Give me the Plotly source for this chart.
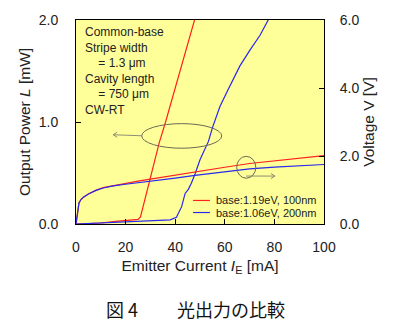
import plotly.graph_objects as go

# ---- data ----
red_L_I = [0, 5, 10, 16, 22, 25, 26, 26.5, 27.5, 28.5, 29.8, 31.5, 33.6, 36, 40, 44, 47.8, 48.5]
red_L = [0, 0.005, 0.01, 0.025, 0.035, 0.045, 0.07, 0.12, 0.2, 0.3, 0.43, 0.6, 0.8, 0.99, 1.33, 1.68, 2.0, 2.06]

blue_L_I = [0, 10, 20, 30, 38, 40.5, 42.6, 44, 45.3, 46.5, 48, 50, 53.4, 55.1, 58, 61.4, 66.1, 70, 74.2, 77.5, 78.5]
blue_L = [0, 0.01, 0.02, 0.03, 0.04, 0.065, 0.17, 0.3, 0.34, 0.4, 0.49, 0.63, 0.81, 0.95, 1.15, 1.32, 1.55, 1.7, 1.85, 2.0, 2.05]

red_V_I = [0, 0.4, 0.8, 1.2, 2, 3, 5, 8, 11, 15, 20, 25, 30, 40, 48, 60, 70, 80, 90, 100]
red_V = [0, 0.25, 0.5, 0.62, 0.72, 0.79, 0.88, 0.99, 1.07, 1.13, 1.2, 1.26, 1.32, 1.44, 1.54, 1.67, 1.78, 1.86, 1.94, 2.01]

blue_V_I = [0, 0.4, 0.8, 1.2, 2, 3, 5, 8, 11, 15, 20, 25, 30, 40, 48, 60, 70, 80, 90, 100]
blue_V = [0, 0.25, 0.5, 0.62, 0.72, 0.79, 0.88, 0.99, 1.06, 1.12, 1.17, 1.21, 1.25, 1.35, 1.43, 1.53, 1.62, 1.67, 1.71, 1.75]

series_names = ["base:1.19eV, 100nm", "base:1.06eV, 200nm"]
series_colors = ["#FF2020", "#2828F0"]

x_ticks = [0, 20, 40, 60, 80, 100]
yL_ticks = [0.0, 1.0, 2.0]
yV_ticks = [0.0, 2.0, 4.0, 6.0]

info_lines = ["Common-base", "Stripe width", "\u00a0\u00a0\u00a0\u00a0= 1.3 μm",
              "Cavity length", "\u00a0\u00a0\u00a0\u00a0= 750 μm", "CW-RT"]
caption_num = "図 4"
caption_text = "光出力の比較"

FONT = "Arial, Liberation Sans, sans-serif"
ANNO_COL = "#6a6a55"
ARROW_COL = "#808070"

fig = go.Figure()
fig.add_trace(go.Scatter(x=red_L_I, y=red_L, mode="lines", line=dict(color=series_colors[0], width=1.2),
                         showlegend=False))
fig.add_trace(go.Scatter(x=blue_L_I, y=blue_L, mode="lines", line=dict(color=series_colors[1], width=1.2),
                         showlegend=False))
fig.add_trace(go.Scatter(x=red_V_I, y=red_V, mode="lines", line=dict(color=series_colors[0], width=1.2),
                         yaxis="y2", showlegend=False))
fig.add_trace(go.Scatter(x=blue_V_I, y=blue_V, mode="lines", line=dict(color=series_colors[1], width=1.2),
                         yaxis="y2", showlegend=False))

axis_common = dict(showgrid=False, zeroline=False, showline=True, linecolor="black", linewidth=1,
                   ticks="inside", ticklen=5, tickcolor="black",
                   tickfont=dict(family=FONT, size=14, color="#222"))

fig.update_layout(
    width=411, height=331,
    margin=dict(l=76, r=87, t=16, b=107),
    paper_bgcolor="white", plot_bgcolor="#FFFF99",
    font=dict(family=FONT, color="#222"),
    xaxis=dict(range=[0, 100], tickvals=x_ticks, mirror=True, ticklabelstandoff=10,
               title=dict(text="Emitter Current <i>I</i><sub>E</sub> [mA]", font=dict(size=15.5), standoff=6),
               **axis_common),
    yaxis=dict(range=[0, 2.0], tickvals=yL_ticks, tickformat=".1f", ticklabelstandoff=14,
               title=dict(text="Output Power <i>L</i> [mW]", font=dict(size=15.5), standoff=4),
               **axis_common),
    yaxis2=dict(range=[0, 6.0], tickvals=yV_ticks, tickformat=".1f", overlaying="y", side="right",
                ticklabelstandoff=12,
                title=dict(text="Voltage V [V]", font=dict(size=15.5), standoff=4),
                **axis_common),
)

# ellipses marking curve groups
fig.add_shape(type="circle", xref="x", yref="y", x0=26.5, x1=58.75, y0=0.743, y1=0.984,
              line=dict(color=ANNO_COL, width=1))
fig.add_shape(type="circle", xref="x", yref="y", x0=64.8, x1=72.5, y0=0.449, y1=0.663,
              line=dict(color=ANNO_COL, width=1))


# arrows (shaft + open head), in data coordinates
def arrow(x_tail, y_tail, x_head, y_head, dx_head, dy_head):
    fig.add_shape(type="line", xref="x", yref="y", x0=x_tail, y0=y_tail, x1=x_head, y1=y_head,
                  line=dict(color=ARROW_COL, width=0.9))
    fig.add_shape(type="path", xref="x", yref="y",
                  path=f"M {x_head + dx_head},{y_head + dy_head} L {x_head},{y_head} L {x_head + dx_head},{y_head - dy_head}",
                  line=dict(color=ARROW_COL, width=0.9))


arrow(26.5, 0.865, 15.0, 0.875, 1.6, 0.025)
arrow(68.6, 0.47, 80.2, 0.47, -1.6, 0.025)

# info text
fig.add_annotation(x=0.028, y=(224 - 19) / 208, xref="paper", yref="paper", xanchor="left", yanchor="top",
                   align="left", showarrow=False, text="<br>".join(info_lines),
                   font=dict(family=FONT, size=12, color="#222"))

# legend (drawn manually to match compact spacing)
leg_rows_y = [(224 - 200) / 208, (224 - 212.3) / 208]
for name, col, yy in zip(series_names, series_colors, leg_rows_y):
    fig.add_shape(type="line", xref="paper", yref="paper", x0=0.472, x1=0.540, y0=yy, y1=yy,
                  line=dict(color=col, width=1.2))
    fig.add_annotation(x=0.558, y=yy, xref="paper", yref="paper", xanchor="left", yanchor="middle",
                       showarrow=False, text=name, font=dict(family=FONT, size=11, color="#222"))

# caption (positions given in pixels, converted to paper coordinates)
for txt, px in ((caption_num, 104), (caption_text, 175)):
    fig.add_annotation(x=(px - 76) / 248, y=(224 - 311) / 208, xref="paper", yref="paper", showarrow=False,
                       text=txt, xanchor="left", yanchor="middle",
                       font=dict(family="Noto Sans CJK JP", size=18, color="#111"))

fig.write_html("out.html")
